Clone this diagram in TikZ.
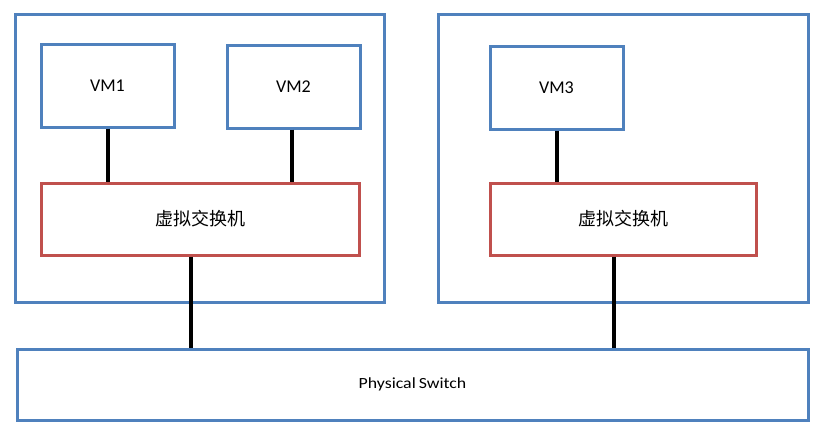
\documentclass[tikz,border=0pt]{standalone}
\usepackage{fontspec}
\setmainfont{Carlito}
\newfontfamily\cjk{Noto Sans CJK SC}
\definecolor{hostblue}{HTML}{4F81BD}
\definecolor{swred}{HTML}{C0504D}
\begin{document}
\begin{tikzpicture}[x=1pt,y=-1pt,
  bluebox/.style={draw=hostblue,line width=3pt,rectangle,inner sep=0pt,fill=white},
  redbox/.style={draw=swred,line width=3pt,rectangle,inner sep=0pt,fill=white},
  link/.style={draw=black,line width=4pt},
  vmtext/.style={font=\fontsize{18}{20}\selectfont,text=black},
  cjktext/.style={font=\cjk\fontsize{18}{20}\selectfont,text=black}]
\fill[white] (0,0) rectangle (828,436);
\useasboundingbox (0,0) rectangle (828,436);
% hosts
\node[bluebox,minimum width=369pt,minimum height=287pt] (host1) at (199.5,158.5) {};
\node[bluebox,minimum width=370pt,minimum height=287pt] (host2) at (623,158.5) {};
% VMs
\node[bluebox,minimum width=133pt,minimum height=82pt,vmtext] (vm1) at (107.5,86) {VM1};
\node[bluebox,minimum width=133pt,minimum height=82pt,vmtext] (vm2) at (293.5,87) {VM2};
\node[bluebox,minimum width=133pt,minimum height=82pt,vmtext] (vm3) at (556.5,88) {VM3};
% virtual switches
\node[redbox,minimum width=318pt,minimum height=72pt,cjktext] (vs1) at (200,219) {虚拟交换机};
\node[redbox,minimum width=266pt,minimum height=72pt,cjktext] (vs2) at (623,219) {虚拟交换机};
% physical switch
\node[bluebox,minimum width=791pt,minimum height=71pt,font=\fontsize{15.5}{17}\selectfont] (phys) at (412.5,384.5) {\scalebox{1.15}[1]{Physical\,Switch}};
% links
\draw[link] (vm1.south -| 108,0) -- (vs1.north -| 108,0);
\draw[link] (vm2.south -| 292,0) -- (vs1.north -| 292,0);
\draw[link] (vm3.south) -- (vs2.north -| vm3.south);
\draw[link] (vs1.south -| 191,0) -- (phys.north -| 191,0);
\draw[link] (vs2.south -| 614,0) -- (phys.north -| 614,0);
\end{tikzpicture}
\end{document}
